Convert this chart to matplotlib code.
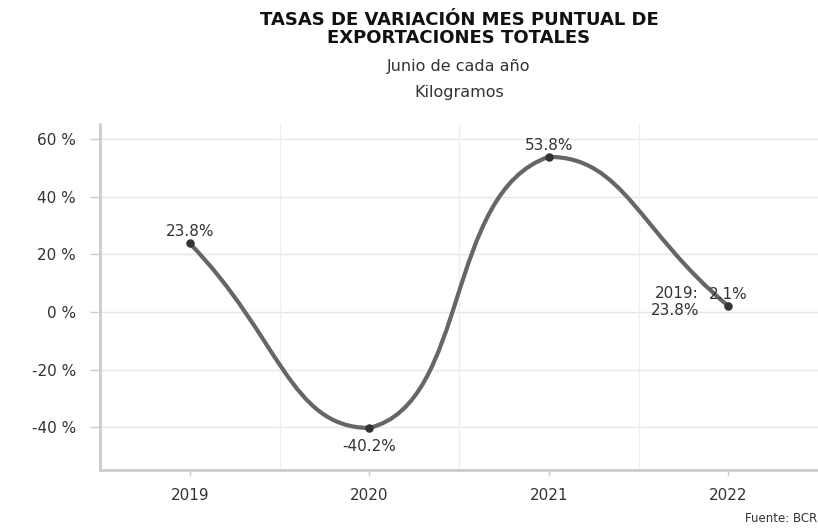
import numpy as np
import matplotlib
matplotlib.use('Agg')
import matplotlib.pyplot as plt
from matplotlib.path import Path
from matplotlib.patches import PathPatch

plt.rcParams['font.family'] = ['DejaVu Sans']

# data
years = ["2019", "2020", "2021", "2022"]
rates = [23.8, -40.2, 53.8, 2.1]
y_ticks = [-40, -20, 0, 20, 40, 60]


def smooth_path(ax, xs, ys, smooth=0.5):
    # bezier smoothing done in pixel space, control points kept inside the data bbox
    pts = ax.transData.transform(np.column_stack([xs, ys]))
    lo, hi = pts.min(axis=0), pts.max(axis=0)
    n = len(pts)
    cps = []
    for i in range(n):
        p = pts[i]
        prev = pts[i - 1] if i > 0 else p
        nxt = pts[i + 1] if i < n - 1 else p
        v = (nxt - prev) * smooth
        d0 = np.hypot(*(p - prev))
        d1 = np.hypot(*(p - nxt))
        s = d0 + d1
        if s:
            d0, d1 = d0 / s, d1 / s
        cps.append(np.clip(p - v * d0, lo, hi))
        cps.append(np.clip(p + v * d1, lo, hi))
    verts = [pts[0]]
    codes = [Path.MOVETO]
    for i in range(1, n):
        verts += [cps[2 * (i - 1) + 1], cps[2 * i], pts[i]]
        codes += [Path.CURVE4] * 3
    verts = ax.transData.inverted().transform(np.array(verts))
    return Path(verts, codes)


text_col = '#333333'
x = np.arange(len(years))

fig = plt.figure(figsize=(8.18, 5.29), dpi=100)
ax = fig.add_axes([100 / 818, 1 - 470 / 529, 718 / 818, 346 / 529])

ax.set_xlim(-0.5, len(years) - 0.5)
ax.set_ylim(-54.8, 65.2)

# grid
for yt in y_ticks:
    ax.axhline(yt, color='#e6e6e6', lw=1, zorder=0)
for xb in x[:-1] + 0.5:
    ax.axvline(xb, color='#eeeeee', lw=1, zorder=0)

# smoothed line + markers
ax.add_patch(PathPatch(smooth_path(ax, x, rates), facecolor='none',
                       edgecolor='#666666', lw=3.0, capstyle='round', zorder=3))
ax.scatter(x, rates, s=26, color='#333333', zorder=4)

# data labels
offsets = [(0, 3, 'bottom'), (0, -8, 'top'), (0, 3, 'bottom'), (0, 3, 'bottom')]
for xi, v, (dx, dy, va) in zip(x, rates, offsets):
    ax.annotate(f"{v:.1f}%", (xi, v), xytext=(dx, dy), textcoords='offset points',
                ha='center', va=va, fontsize=11, color=text_col, zorder=5)
ax.annotate(f"{years[0]}:\n{rates[0]:.1f}%", (x[-1], rates[-1]), xytext=(-21, 3),
            textcoords='offset points', ha='right', va='center', fontsize=11,
            color=text_col, linespacing=1.15, zorder=5)

# axes styling
ax.set_xticks(x)
ax.set_xticklabels(years)
ax.set_yticks(y_ticks)
ax.set_yticklabels([f"{v} %" for v in y_ticks])
ax.tick_params(axis='y', length=7.2, width=1, color='#cccccc', pad=10,
               labelsize=11, labelcolor=text_col)
ax.tick_params(axis='x', length=4, width=1, color='#cccccc', pad=9,
               labelsize=11, labelcolor=text_col)
for side in ['top', 'right']:
    ax.spines[side].set_visible(False)
for side in ['left', 'bottom']:
    ax.spines[side].set_color('#cccccc')
    ax.spines[side].set_linewidth(2)

# titles
cx = (100 + 818) / 2 / 818
fig.text(cx, 1 - 29 / 529, "TASAS DE VARIACIÓN MES PUNTUAL DE\nEXPORTACIONES TOTALES",
         ha='center', va='center', fontsize=13, fontweight='bold', color='#111111',
         linespacing=1.0)
fig.text(cx, 1 - 66 / 529, "Junio de cada año", ha='center', va='center',
         fontsize=11.5, color=text_col)
fig.text(cx, 1 - 93 / 529, "Kilogramos", ha='center', va='center',
         fontsize=11.5, color=text_col)
fig.text(817 / 818, 1 - 519 / 529, "Fuente: BCR", ha='right', va='center',
         fontsize=8.5, color=text_col)

fig.savefig("out.png", dpi=100)
